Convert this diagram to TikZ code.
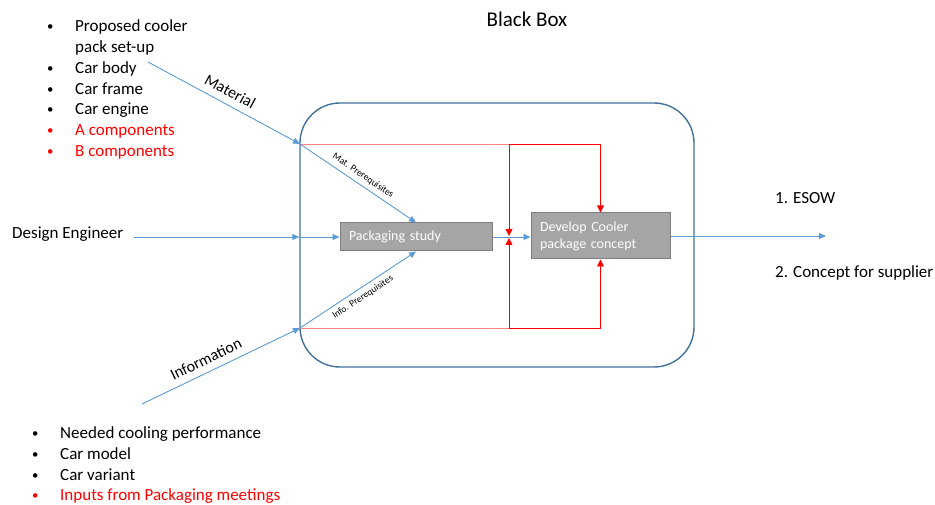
\documentclass[tikz,border=0pt]{standalone}
\usepackage{fontspec}
\setmainfont{Carlito}
\usetikzlibrary{arrows.meta}
\definecolor{lblue}{HTML}{5B9BD5}
\definecolor{dblue}{HTML}{41719C}
\definecolor{boxgray}{HTML}{A5A5A5}
\definecolor{boxedge}{HTML}{7F7F7F}
\definecolor{lred}{HTML}{FF8585}
\newcommand\bulitem{\makebox[25pt][l]{\makebox[0pt]{\raisebox{1pt}{\scalebox{0.75}{•}}}}}
\begin{document}
\begin{tikzpicture}[x=1pt,y=-1pt,
  every node/.style={font=\fontsize{17}{20.8}\selectfont},
  flow/.style={draw=lblue, line width=0.9pt, -{Triangle[length=7pt,width=6pt]}},
  lredln/.style={draw=lred, line width=0.9pt},
  redarr/.style={draw=red, line width=0.9pt, -{Triangle[length=7pt,width=7pt]}},
  procbox/.style={draw=boxedge, fill=boxgray, text=white, line width=1pt, align=left, inner xsep=9pt, inner ysep=0pt, font=\fontsize{14}{17.2}\selectfont},
  biglbl/.style={font=\fontsize{16}{19}\selectfont, inner sep=1pt},
  smalllbl/.style={font=\fontsize{9.5}{11}\selectfont, inner sep=1pt},
  plain/.style={inner sep=0pt},
]
\useasboundingbox (0,0) rectangle (935,505);

% black box
\node[draw=dblue, line width=1.4pt, rounded corners=40pt, minimum width=394pt, minimum height=264pt, inner sep=0pt] (bb) at (497,235) {};
\node[plain, anchor=base, font=\fontsize{21}{25}\selectfont] (title) at (527,27) {Black Box};

% process boxes
\node[procbox, text width=134pt, minimum height=28pt] (ps) at (416,237) {Packaging study};
\node[procbox, text width=121pt, minimum height=46pt] (dev) at (600.5,236) {Develop Cooler\\package concept};

% bullet lists
\node[plain, anchor=north west] (toplist) at (50,16.9) {\begin{tabular}{@{}l@{}}
\bulitem Proposed cooler\\
\hspace{25pt}pack set-up\\
\bulitem Car body\\
\bulitem Car frame\\
\bulitem Car engine\\
\textcolor{red}{\bulitem A components}\\
\textcolor{red}{\bulitem B components}
\end{tabular}};
\node[plain, anchor=north west] (botlist) at (35,423.7) {\begin{tabular}{@{}l@{}}
\bulitem Needed cooling performance\\
\bulitem Car model\\
\bulitem Car variant\\
\textcolor{red}{\bulitem Inputs from Packaging meetings}
\end{tabular}};

% side texts
\node[plain, anchor=base west] (de) at (12,239) {Design Engineer};
\node[plain, anchor=base west] (esow) at (775,204) {1. ESOW};
\node[plain, anchor=base west] (conc) at (775,278) {2. Concept for supplier};

% coordinates
\coordinate (matS) at (148,62);
\coordinate (matE) at (300,144);
\coordinate (infS) at (142,404);
\coordinate (infE) at (300,328);
\coordinate (rTM) at (509,144);
\coordinate (rBM) at (509,328);
\coordinate (rC) at (509,237);
\coordinate (out) at (826,236);

% red lines
\draw[lredln] (matE) -- (rTM);
\draw[lredln] (infE) -- (rBM);
\draw[redarr] (rTM) -- ([yshift=1pt]rC);
\draw[redarr] (rBM) -- ([yshift=-1pt]rC);
\draw[redarr] (rTM) -- (rTM -| dev.north) -- (dev.north);
\draw[redarr] (rBM) -- (rBM -| dev.south) -- (dev.south);

% blue flows
\draw[flow] (matS) -- (matE) node[biglbl, pos=0.5, sloped, above=6pt] {Material};
\draw[flow] (infS) -- (infE) node[biglbl, pos=0.44, sloped, above=6pt] {Information};
\draw[flow] ([xshift=10pt]de.east |- ps.west) -- (ps.west -| bb.west);
\draw[flow] (ps.west -| bb.west) -- (ps.west);
\draw[flow] (matE) -- (ps.north) node[smalllbl, pos=0.5, sloped, above=3.5pt] {Mat. Prerequisites};
\draw[flow] (infE) -- (ps.south) node[smalllbl, pos=0.5, sloped, below=3.5pt] {Info. Prerequisites};
\draw[flow] (ps.east) -- (ps.east -| dev.west);
\draw[flow] (dev.east) -- (out);
\end{tikzpicture}
\end{document}
